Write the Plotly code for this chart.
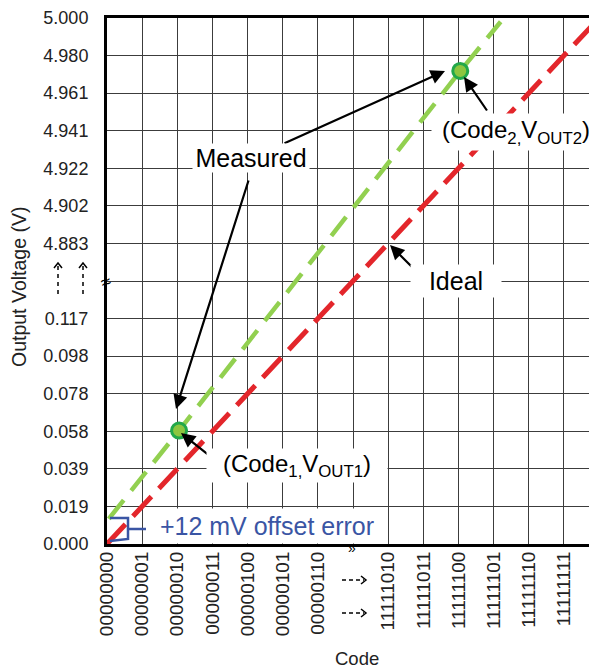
import plotly.graph_objects as go

# ---------------- data ----------------
code_labels = ["00000000", "00000001", "00000010", "00000011", "00000100",
               "00000101", "00000110", "", "11111010", "11111011",
               "11111100", "11111101", "11111110", "11111111"]
code_pos = list(range(14))
volt_labels = ["0.000", "0.019", "0.039", "0.058", "0.078", "0.098", "0.117", "",
               "4.883", "4.902", "4.922", "4.941", "4.961", "4.980", "5.000"]
volt_pos = list(range(15))

ideal_x = [0, 14]
ideal_y = [0, 14]
measured_x = [0.05, 2.05, 10.05, 11.2]
measured_y = [0.67, 3.02, 12.59, 13.9]
points_x = [2.05, 10.05]
points_y = [3.02, 12.59]

# ---------------- layout geometry (screen px; page body adds a small margin) ----------------
OFF = 7
SW, SH = 597, 670
L, T, BOT = 106, 17, 543          # plot left / top / bottom in screen px
W, H = SW - OFF, SH - OFF
PW = SW - L
PH = BOT - T
X_MAX = PW / 35.15
FONT = "Liberation Sans, Arial, sans-serif"


def px(x):
    return (x - L) / PW


def py(y):
    return (BOT - y) / PH


fig = go.Figure()
fig.add_trace(go.Scatter(x=ideal_x, y=ideal_y, mode="lines",
                         line=dict(color="#E3262B", width=5, dash="27px,11px"),
                         hoverinfo="skip", showlegend=False))
fig.add_trace(go.Scatter(x=measured_x, y=measured_y, mode="lines",
                         line=dict(color="#92D050", width=4.5, dash="24px,12px"),
                         hoverinfo="skip", showlegend=False))
fig.add_trace(go.Scatter(x=points_x, y=points_y, mode="markers",
                         marker=dict(size=15, color="#8DC63F",
                                     line=dict(color="#22A84A", width=3)),
                         hoverinfo="skip", showlegend=False))

annotations = []


def arrow(tip, tail):
    annotations.append(dict(x=px(tip[0]), y=py(tip[1]), xref="paper", yref="paper",
                            ax=tail[0] - tip[0], ay=tail[1] - tip[1],
                            axref="pixel", ayref="pixel", text="", showarrow=True,
                            arrowhead=2, arrowsize=1.3, arrowwidth=2.2,
                            arrowcolor="#000000", standoff=0,
                            font=dict(size=10)))


def label(text, cx, cy, size=25, color="#000000", w=None, h=None, bg="white"):
    d = dict(x=px(cx), y=py(cy), xref="paper", yref="paper", text=text,
             showarrow=False, font=dict(family=FONT, size=size, color=color),
             xanchor="center", yanchor="middle", bgcolor=bg, borderpad=0)
    if w:
        d["width"] = w
    if h:
        d["height"] = h
    annotations.append(d)


arrow((444, 70), (282, 143))
arrow((175, 408), (248, 178))
arrow((180, 432), (219, 463))
arrow((463, 76), (487, 111))
arrow((389, 244), (425, 280))

label("Measured", 250, 157, w=116, h=28)
label("(Code<sub>1,</sub>V<sub>OUT1</sub>)", 296, 464, size=24, w=180, h=33)
label("(Code<sub>2,</sub>V<sub>OUT2</sub>)", 515, 131, size=24, w=168, h=36)
label("Ideal", 455, 280, w=90, h=32)
label("+12 mV offset error", 266, 525, color="#3A55A4", w=234, h=34)

# axis titles
annotations.append(dict(x=px(18), y=py(286), xref="paper", yref="paper",
                        text="Output Voltage (V)", showarrow=False, textangle=-90,
                        font=dict(family=FONT, size=19.5, color="#222222"),
                        xanchor="center", yanchor="middle"))
annotations.append(dict(x=px(356), y=py(657), xref="paper", yref="paper",
                        text="Code", showarrow=False,
                        font=dict(family=FONT, size=18.5, color="#222222"),
                        xanchor="center", yanchor="middle"))
# axis break marks
annotations.append(dict(x=px(105), y=py(281), xref="paper", yref="paper",
                        text="≈", showarrow=False,
                        font=dict(family=FONT, size=18, color="#000000"),
                        xanchor="center", yanchor="middle", textangle=-20))
annotations.append(dict(x=px(351), y=py(547), xref="paper", yref="paper",
                        text="»", showarrow=False,
                        font=dict(family=FONT, size=14, color="#000000"),
                        xanchor="center", yanchor="middle"))

shapes = []
# blue offset bracket
shapes.append(dict(type="path", xref="paper", yref="paper",
                   path=(f"M {px(109)},{py(517)} L {px(127)},{py(517)} "
                         f"L {px(127)},{py(538)} L {px(109)},{py(540)} "
                         f"M {px(127)},{py(528)} L {px(145)},{py(528)}"),
                   line=dict(color="#3A55A4", width=2.5), layer="above"))
# dashed break arrows on y axis
for xa in (57, 82):
    shapes.append(dict(type="line", xref="paper", yref="paper",
                       x0=px(xa), x1=px(xa), y0=py(265), y1=py(296),
                       line=dict(color="#000000", width=1.5, dash="4px,4px")))
    shapes.append(dict(type="path", xref="paper", yref="paper",
                       path=f"M {px(xa-4)},{py(267)} L {px(xa)},{py(262)} L {px(xa+4)},{py(267)}",
                       line=dict(color="#000000", width=1.5)))
# dashed break arrows under x axis
for ya in (579, 612):
    shapes.append(dict(type="line", xref="paper", yref="paper",
                       x0=px(341), x1=px(363), y0=py(ya), y1=py(ya),
                       line=dict(color="#000000", width=1.5, dash="4px,3px")))
    shapes.append(dict(type="path", xref="paper", yref="paper",
                       path=f"M {px(360)},{py(ya-4)} L {px(365)},{py(ya)} L {px(360)},{py(ya+4)}",
                       line=dict(color="#000000", width=1.5)))

fig.update_layout(
    width=W, height=H,
    margin=dict(l=L - OFF, r=0, t=T - OFF, b=SH - BOT, pad=0, autoexpand=False),
    paper_bgcolor="white", plot_bgcolor="white",
    font=dict(family=FONT, color="#222222"),
    annotations=annotations, shapes=shapes,
    xaxis=dict(range=[0, X_MAX], tickmode="array", tickvals=code_pos, ticktext=code_labels,
               tickangle=-90, tickfont=dict(size=19, family=FONT, color="#222222"),
               showgrid=True, gridcolor="#3c3c3c", gridwidth=1, automargin=False,
               showline=True, linecolor="#000000", linewidth=3, mirror=True,
               ticks="", zeroline=False, fixedrange=True, ticklabelstandoff=-3,
               ticklabeloverflow="allow"),
    yaxis=dict(range=[0, 14], tickmode="array", tickvals=volt_pos, ticktext=volt_labels,
               tickfont=dict(size=18, family=FONT, color="#222222"),
               showgrid=True, gridcolor="#3c3c3c", gridwidth=1, automargin=False,
               showline=True, linecolor="#000000", linewidth=3, mirror=False,
               ticks="", zeroline=False, fixedrange=True, ticklabelstandoff=12,
               ticklabeloverflow="allow"),
)

fig.write_html("out.html")
